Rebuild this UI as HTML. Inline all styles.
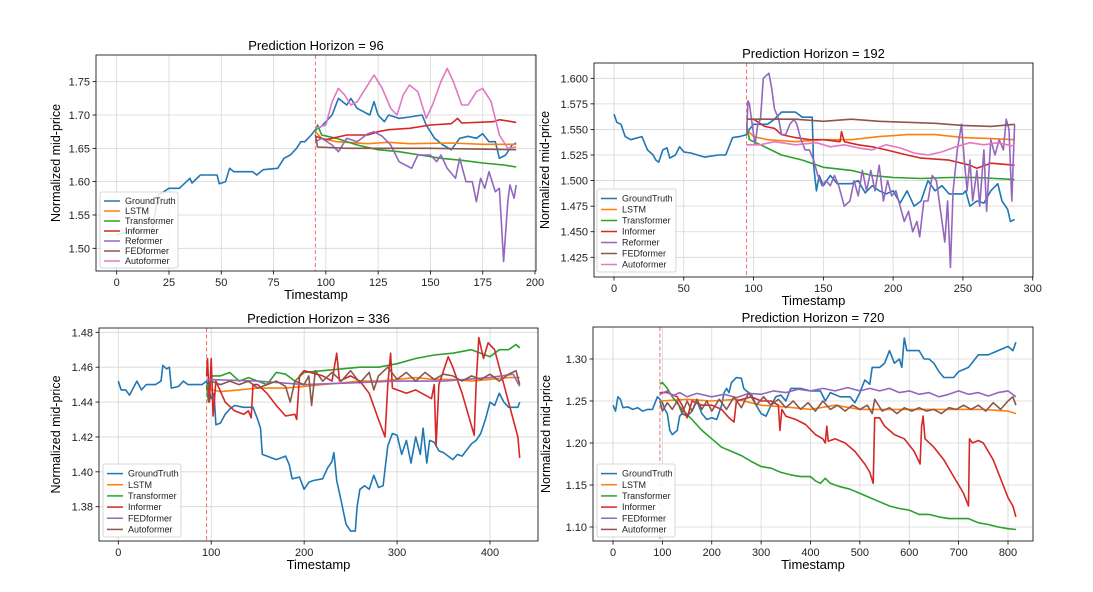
<!DOCTYPE html>
<html><head><meta charset="utf-8"><style>
body{margin:0;background:#fff}
svg{display:block;font-family:"Liberation Sans","DejaVu Sans",sans-serif}
</style></head><body>
<svg id="fig" width="1093" height="592" viewBox="0 0 1093 592" xmlns="http://www.w3.org/2000/svg"></svg>
<script>
// ---------- Data: Horizon 96 ----------
const p1_gt=[[0,1.52],[6,1.525],[13,1.525],[17,1.53],[20,1.58],[25,1.59],[30,1.59],[35,1.605],[36,1.598],[40,1.61],[48,1.61],[49,1.597],[52,1.60],[54,1.62],[56,1.615],[65,1.615],[67,1.61],[70,1.618],[77,1.62],[80,1.635],[83,1.64],[86,1.65],[88,1.66],[90,1.66],[93,1.67],[95,1.678],[98,1.683],[100,1.69],[103,1.70],[106,1.725],[108,1.72],[110,1.715],[112,1.725],[115,1.71],[118,1.705],[121,1.70],[123,1.72],[125,1.70],[128,1.69],[130,1.70],[135,1.695],[140,1.697],[146,1.70],[148,1.685],[152,1.665],[156,1.655],[160,1.648],[164,1.665],[168,1.668],[172,1.665],[175,1.672],[178,1.66],[181,1.66],[183,1.635],[186,1.64],[189,1.655],[191,1.658]];
const p1_lstm=[[95,1.675],[98,1.665],[105,1.66],[120,1.657],[130,1.659],[140,1.657],[160,1.658],[175,1.656],[191,1.656]];
const p1_trans=[[95,1.675],[96,1.685],[98,1.67],[105,1.665],[115,1.655],[125,1.648],[135,1.645],[145,1.64],[155,1.635],[165,1.632],[175,1.628],[185,1.625],[191,1.622]];
const p1_inf=[[95,1.668],[100,1.663],[110,1.67],[120,1.67],[125,1.675],[130,1.678],[140,1.68],[150,1.685],[160,1.687],[163,1.695],[165,1.688],[180,1.69],[183,1.693],[191,1.689]];
const p1_ref=[[95,1.66],[98,1.665],[103,1.655],[106,1.645],[110,1.665],[115,1.66],[120,1.672],[123,1.675],[127,1.668],[131,1.655],[135,1.63],[138,1.625],[141,1.62],[144,1.64],[150,1.64],[153,1.63],[155,1.64],[158,1.62],[162,1.605],[164,1.635],[167,1.60],[170,1.60],[172,1.57],[174,1.605],[176,1.59],[178,1.615],[181,1.585],[183,1.59],[185,1.48],[187,1.57],[188,1.595],[190,1.575],[191,1.595]];
const p1_fed=[[95,1.67],[96,1.652],[110,1.65],[150,1.65],[191,1.648]];
const p1_auto=[[95,1.68],[100,1.685],[103,1.72],[106,1.74],[109,1.73],[112,1.715],[115,1.72],[119,1.74],[123,1.76],[127,1.74],[131,1.71],[134,1.70],[137,1.73],[140,1.745],[144,1.735],[148,1.695],[151,1.715],[155,1.75],[158,1.77],[161,1.75],[165,1.715],[168,1.715],[172,1.735],[175,1.74],[179,1.72],[183,1.67],[187,1.65],[191,1.652]];
const p1_yticks=[1.50,1.55,1.60,1.65,1.70,1.75];
const p1_xticks=[0,25,50,75,100,125,150,175,200];
// ---------- Data: Horizon 192 ----------
const p2_gt=[[0,1.565],[2,1.557],[5,1.555],[8,1.543],[12,1.54],[20,1.543],[24,1.53],[28,1.525],[30,1.52],[32,1.518],[35,1.53],[38,1.532],[40,1.522],[44,1.525],[47,1.533],[50,1.528],[55,1.527],[65,1.523],[75,1.525],[80,1.525],[85,1.542],[90,1.543],[95,1.545],[97,1.55],[100,1.555],[110,1.555],[115,1.56],[120,1.567],[130,1.567],[135,1.562],[142,1.562],[143,1.515],[145,1.49],[147,1.505],[150,1.495],[155,1.505],[160,1.497],[170,1.497],[175,1.50],[180,1.488],[185,1.495],[190,1.49],[195,1.487],[200,1.49],[205,1.478],[210,1.49],[215,1.475],[220,1.48],[225,1.50],[230,1.49],[235,1.495],[240,1.487],[250,1.487],[252,1.49],[255,1.475],[260,1.48],[265,1.478],[270,1.49],[275,1.497],[278,1.48],[282,1.472],[284,1.46],[287,1.462]];
const p2_lstm=[[95,1.55],[100,1.543],[110,1.54],[130,1.538],[150,1.54],[170,1.54],[190,1.543],[210,1.545],[230,1.545],[250,1.542],[270,1.541],[287,1.54]];
const p2_trans=[[95,1.555],[97,1.54],[105,1.535],[120,1.525],[135,1.52],[150,1.513],[170,1.51],[185,1.505],[200,1.503],[220,1.502],[240,1.503],[260,1.503],[287,1.501]];
const p2_inf=[[95,1.56],[100,1.56],[108,1.553],[115,1.551],[120,1.545],[130,1.542],[140,1.54],[150,1.54],[162,1.538],[163,1.548],[165,1.538],[175,1.535],[185,1.533],[195,1.53],[210,1.525],[220,1.522],[240,1.52],[255,1.515],[260,1.512],[270,1.517],[287,1.515]];
const p2_ref=[[95,1.545],[96,1.578],[97,1.575],[99,1.555],[101,1.535],[103,1.555],[105,1.56],[107,1.60],[111,1.605],[113,1.59],[115,1.57],[118,1.56],[120,1.545],[123,1.545],[126,1.555],[129,1.56],[131,1.555],[134,1.54],[137,1.53],[140,1.53],[143,1.52],[146,1.505],[149,1.495],[152,1.50],[155,1.495],[158,1.505],[161,1.495],[165,1.475],[169,1.48],[172,1.50],[175,1.485],[178,1.51],[181,1.49],[184,1.51],[187,1.49],[190,1.515],[193,1.48],[196,1.50],[199,1.485],[202,1.49],[205,1.475],[208,1.46],[211,1.47],[214,1.45],[217,1.46],[219,1.445],[222,1.48],[225,1.48],[228,1.505],[231,1.50],[234,1.47],[237,1.44],[239,1.48],[241,1.415],[243,1.49],[246,1.53],[249,1.555],[251,1.52],[253,1.49],[255,1.52],[257,1.48],[260,1.51],[262,1.475],[265,1.53],[267,1.47],[270,1.54],[273,1.525],[276,1.54],[279,1.53],[281,1.56],[283,1.55],[285,1.48],[287,1.555]];
const p2_fed=[[95,1.56],[110,1.56],[130,1.56],[150,1.558],[170,1.56],[190,1.558],[210,1.557],[230,1.556],[250,1.554],[270,1.553],[287,1.555]];
const p2_auto=[[95,1.535],[105,1.535],[115,1.538],[130,1.535],[145,1.537],[155,1.533],[165,1.535],[175,1.532],[185,1.53],[195,1.535],[205,1.532],[215,1.527],[225,1.525],[235,1.528],[245,1.533],[255,1.537],[265,1.535],[275,1.537],[285,1.534],[287,1.535]];
const p2_yticks=[1.425,1.450,1.475,1.500,1.525,1.550,1.575,1.600];
const p2_xticks=[0,50,100,150,200,250,300];
// ---------- Data: Horizon 336 ----------
const p3_gt=[[0,1.452],[3,1.447],[8,1.447],[12,1.444],[16,1.448],[20,1.452],[25,1.447],[30,1.45],[40,1.45],[46,1.452],[48,1.461],[52,1.459],[55,1.46],[57,1.448],[65,1.449],[70,1.452],[75,1.45],[90,1.45],[95,1.452],[100,1.442],[103,1.445],[105,1.427],[110,1.428],[115,1.433],[120,1.436],[125,1.438],[135,1.437],[145,1.437],[150,1.43],[153,1.425],[155,1.41],[160,1.409],[170,1.407],[180,1.409],[184,1.404],[187,1.396],[195,1.397],[200,1.39],[205,1.394],[210,1.395],[220,1.396],[225,1.402],[230,1.406],[232,1.411],[235,1.395],[240,1.383],[245,1.37],[250,1.366],[255,1.366],[257,1.38],[260,1.39],[265,1.392],[270,1.39],[275,1.398],[280,1.391],[285,1.392],[290,1.415],[295,1.422],[300,1.421],[305,1.41],[310,1.418],[315,1.405],[320,1.42],[325,1.41],[328,1.425],[332,1.405],[335,1.418],[340,1.417],[345,1.412],[350,1.411],[360,1.407],[365,1.41],[370,1.409],[380,1.416],[385,1.418],[390,1.422],[395,1.43],[400,1.44],[405,1.438],[410,1.445],[415,1.44],[420,1.437],[430,1.437],[432,1.44]];
const p3_lstm=[[95,1.45],[100,1.447],[110,1.446],[130,1.447],[150,1.448],[180,1.448],[200,1.449],[220,1.45],[240,1.451],[260,1.452],[280,1.452],[300,1.453],[320,1.454],[340,1.453],[360,1.453],[380,1.452],[400,1.453],[420,1.454],[432,1.454]];
const p3_trans=[[95,1.45],[97,1.44],[100,1.455],[110,1.455],[120,1.457],[130,1.452],[140,1.454],[150,1.452],[160,1.45],[170,1.457],[180,1.456],[190,1.452],[200,1.457],[220,1.458],[240,1.459],[260,1.46],[280,1.46],[300,1.462],[320,1.465],[340,1.467],[360,1.468],[380,1.47],[390,1.468],[400,1.466],[410,1.47],[420,1.47],[428,1.473],[432,1.471]];
const p3_inf=[[95,1.455],[96,1.465],[98,1.44],[100,1.465],[102,1.432],[105,1.452],[115,1.44],[125,1.435],[135,1.433],[140,1.435],[143,1.431],[145,1.45],[150,1.45],[160,1.445],[170,1.438],[180,1.432],[190,1.433],[192,1.43],[195,1.455],[200,1.458],[220,1.455],[230,1.452],[235,1.468],[238,1.452],[250,1.455],[260,1.452],[270,1.445],[280,1.43],[287,1.42],[290,1.45],[293,1.468],[295,1.448],[310,1.445],[320,1.447],[337,1.442],[340,1.45],[342,1.415],[345,1.45],[355,1.466],[360,1.46],[370,1.445],[383,1.421],[385,1.45],[388,1.477],[393,1.465],[398,1.474],[405,1.47],[415,1.45],[425,1.43],[430,1.42],[432,1.408]];
const p3_fed=[[95,1.453],[150,1.452],[200,1.45],[250,1.451],[300,1.452],[350,1.452],[400,1.454],[425,1.456],[432,1.449]];
const p3_auto=[[95,1.447],[100,1.452],[110,1.45],[120,1.452],[130,1.45],[140,1.452],[150,1.448],[160,1.45],[170,1.452],[180,1.449],[185,1.44],[190,1.452],[200,1.45],[205,1.455],[208,1.438],[212,1.458],[220,1.452],[230,1.457],[240,1.452],[250,1.458],[260,1.451],[270,1.457],[275,1.447],[280,1.455],[290,1.46],[300,1.453],[310,1.457],[320,1.452],[330,1.457],[340,1.453],[350,1.456],[360,1.455],[370,1.452],[380,1.455],[390,1.453],[400,1.456],[410,1.452],[420,1.456],[428,1.458],[432,1.45]];
const p3_yticks=[1.38,1.40,1.42,1.44,1.46,1.48];
const p3_xticks=[0,100,200,300,400];
// ---------- Data: Horizon 720 ----------
const p4_gt=[[0,1.245],[5,1.238],[10,1.255],[15,1.252],[20,1.242],[30,1.243],[40,1.24],[50,1.242],[60,1.238],[70,1.24],[80,1.24],[90,1.255],[95,1.252],[100,1.248],[105,1.24],[110,1.235],[115,1.215],[120,1.21],[130,1.215],[135,1.232],[140,1.235],[150,1.232],[160,1.238],[170,1.25],[180,1.235],[190,1.228],[200,1.23],[210,1.228],[220,1.245],[225,1.26],[230,1.265],[235,1.26],[240,1.272],[245,1.275],[250,1.278],[260,1.277],[265,1.265],[270,1.262],[280,1.258],[290,1.245],[300,1.235],[310,1.232],[320,1.245],[330,1.255],[340,1.257],[350,1.25],[360,1.265],[380,1.265],[400,1.262],[420,1.262],[430,1.25],[440,1.26],[460,1.255],[480,1.255],[490,1.248],[500,1.26],[510,1.275],[520,1.27],[525,1.29],[540,1.29],[550,1.295],[560,1.31],[570,1.295],[580,1.30],[585,1.29],[590,1.325],[595,1.31],[610,1.31],[620,1.31],[630,1.30],[640,1.30],[650,1.295],[660,1.285],[670,1.278],[690,1.278],[700,1.285],[720,1.29],[740,1.305],[760,1.305],[780,1.31],[800,1.315],[810,1.31],[816,1.32]];
const p4_lstm=[[95,1.25],[150,1.252],[200,1.25],[250,1.252],[300,1.245],[350,1.243],[400,1.24],[450,1.245],[500,1.24],[550,1.24],[600,1.24],[650,1.24],[700,1.24],[750,1.24],[800,1.238],[816,1.235]];
const p4_trans=[[95,1.27],[100,1.272],[110,1.265],[120,1.255],[140,1.24],[160,1.228],[180,1.215],[200,1.205],[220,1.195],[240,1.19],[260,1.185],[280,1.178],[300,1.172],[320,1.17],[340,1.165],[360,1.162],[380,1.16],[400,1.16],[410,1.155],[420,1.152],[430,1.158],[440,1.152],[460,1.148],[480,1.145],[500,1.14],[520,1.135],[540,1.13],[560,1.125],[580,1.122],[600,1.12],[620,1.115],[640,1.115],[660,1.112],[680,1.11],[700,1.11],[720,1.11],[740,1.105],[760,1.103],[780,1.10],[800,1.098],[816,1.097]];
const p4_inf=[[95,1.26],[110,1.26],[130,1.255],[140,1.245],[150,1.23],[160,1.25],[180,1.245],[200,1.245],[220,1.24],[235,1.23],[245,1.225],[250,1.25],[280,1.255],[300,1.25],[320,1.25],[335,1.245],[338,1.215],[342,1.24],[350,1.232],[370,1.228],[390,1.222],[410,1.21],[425,1.205],[430,1.20],[433,1.22],[436,1.202],[450,1.205],[470,1.20],[490,1.19],[510,1.175],[520,1.165],[527,1.152],[530,1.23],[540,1.23],[550,1.22],[570,1.21],[590,1.205],[610,1.19],[622,1.175],[625,1.22],[628,1.232],[632,1.205],[650,1.195],[670,1.18],[690,1.16],[710,1.14],[720,1.125],[722,1.205],[728,1.20],[740,1.203],[750,1.20],[770,1.18],[790,1.15],[800,1.135],[810,1.125],[816,1.112]];
const p4_fed=[[95,1.258],[110,1.262],[120,1.256],[135,1.26],[150,1.255],[170,1.259],[200,1.255],[225,1.258],[250,1.254],[275,1.259],[300,1.258],[325,1.262],[350,1.26],[375,1.264],[400,1.262],[425,1.265],[450,1.262],[475,1.266],[500,1.262],[520,1.265],[540,1.262],[560,1.265],[580,1.26],[600,1.262],[620,1.258],[640,1.26],[660,1.255],[680,1.258],[700,1.262],[720,1.258],[740,1.26],[760,1.256],[780,1.26],[800,1.262],[816,1.255]];
const p4_auto=[[95,1.25],[100,1.238],[110,1.248],[120,1.24],[130,1.25],[140,1.235],[150,1.25],[160,1.238],[170,1.252],[180,1.24],[190,1.25],[200,1.238],[215,1.252],[230,1.24],[245,1.255],[260,1.242],[275,1.26],[290,1.245],[305,1.255],[320,1.245],[335,1.252],[350,1.242],[365,1.25],[380,1.24],[395,1.248],[410,1.238],[425,1.25],[440,1.24],[455,1.245],[470,1.238],[485,1.245],[500,1.24],[515,1.245],[525,1.235],[530,1.252],[545,1.238],[560,1.242],[575,1.235],[590,1.242],[605,1.238],[620,1.242],[635,1.238],[650,1.24],[665,1.235],[680,1.242],[695,1.24],[710,1.245],[725,1.24],[740,1.245],[755,1.238],[770,1.248],[785,1.24],[800,1.25],[810,1.255],[816,1.245]];
const p4_yticks=[1.10,1.15,1.20,1.25,1.30];
const p4_xticks=[0,100,200,300,400,500,600,700,800];

const C={blue:'#1f77b4',orange:'#ff7f0e',green:'#2ca02c',red:'#d62728',purple:'#9467bd',brown:'#8c564b',pink:'#e377c2'};
const panels=[
 {id:'p96',title:'Prediction Horizon = 96',box:[96,55,536,271],x0:0,x0px:116.7,x1:200,x1px:535,y0:1.50,y0px:248.3,y1:1.75,y1px:81.7,xt:p1_xticks,yt:p1_yticks,yfmt:2,leg:[100,192,178,268],ylx:60,
  series:[['GroundTruth',p1_gt,C.blue],['LSTM',p1_lstm,C.orange],['Transformer',p1_trans,C.green],['Informer',p1_inf,C.red],['Reformer',p1_ref,C.purple],['FEDformer',p1_fed,C.brown],['Autoformer',p1_auto,C.pink]]},
 {id:'p192',title:'Prediction Horizon = 192',box:[594,63,1033,277],x0:0,x0px:614,x1:300,x1px:1032.7,y0:1.425,y0px:257.3,y1:1.600,y1px:78.3,xt:p2_xticks,yt:p2_yticks,yfmt:3,leg:[597,189,676,272],ylx:549,
  series:[['GroundTruth',p2_gt,C.blue],['LSTM',p2_lstm,C.orange],['Transformer',p2_trans,C.green],['Informer',p2_inf,C.red],['Reformer',p2_ref,C.purple],['FEDformer',p2_fed,C.brown],['Autoformer',p2_auto,C.pink]]},
 {id:'p336',title:'Prediction Horizon = 336',box:[99,328,538,541],x0:0,x0px:118.3,x1:400,x1px:490,y0:1.38,y0px:506.7,y1:1.48,y1px:332.3,xt:p3_xticks,yt:p3_yticks,yfmt:2,leg:[103,464,181,537],ylx:60,
  series:[['GroundTruth',p3_gt,C.blue],['LSTM',p3_lstm,C.orange],['Transformer',p3_trans,C.green],['Informer',p3_inf,C.red],['FEDformer',p3_fed,C.purple],['Autoformer',p3_auto,C.brown]]},
 {id:'p720',title:'Prediction Horizon = 720',box:[593,327,1033,541],x0:0,x0px:613,x1:800,x1px:1008,y0:1.10,y0px:527,y1:1.30,y1px:359,xt:p4_xticks,yt:p4_yticks,yfmt:2,leg:[597,464,675,537],ylx:550,
  series:[['GroundTruth',p4_gt,C.blue],['LSTM',p4_lstm,C.orange],['Transformer',p4_trans,C.green],['Informer',p4_inf,C.red],['FEDformer',p4_fed,C.purple],['Autoformer',p4_auto,C.brown]]}
];
const NS='http://www.w3.org/2000/svg';
const svg=document.getElementById('fig');
function mk(tag,attrs,parent,text){const e=document.createElementNS(NS,tag);for(const k in attrs)e.setAttribute(k,attrs[k]);if(text!==undefined)e.textContent=text;parent.appendChild(e);return e;}
panels.forEach(p=>{
  const g=mk('g',{},svg);
  
  
  const sx=v=>p.x0px+(v-p.x0)*(p.x1px-p.x0px)/(p.x1-p.x0);
  const sy=v=>p.y0px+(v-p.y0)*(p.y1px-p.y0px)/(p.y1-p.y0);
  const [L,T,R,B]=p.box;
  const t=mk('text',{x:(L+R)/2,y:T-5,'text-anchor':'middle','font-size':13,fill:'#000'},g,p.title);
  
  
  p.xt.forEach(v=>{const x=sx(v);
    const gl=mk('line',{x1:x,x2:x,y1:T,y2:B,stroke:'#d6d6d6','stroke-width':0.8},g);
    
    
    mk('line',{x1:x,x2:x,y1:B,y2:B+3.5,stroke:'#000','stroke-width':0.8},g);
    const tl=mk('text',{x:x,y:B+15,'text-anchor':'middle','font-size':11,fill:'#222'},g,String(v));
    
    
  });
  p.yt.forEach(v=>{const y=sy(v);
    const gl=mk('line',{x1:L,x2:R,y1:y,y2:y,stroke:'#d6d6d6','stroke-width':0.8},g);
    
    
    mk('line',{x1:L-3.5,x2:L,y1:y,y2:y,stroke:'#000','stroke-width':0.8},g);
    const tl=mk('text',{x:L-6,y:y+4,'text-anchor':'end','font-size':11,fill:'#222'},g,v.toFixed(p.yfmt));
    
    
  });
  const vl=mk('line',{x1:sx(95),x2:sx(95),y1:T,y2:B,stroke:'#f47070','stroke-width':1,'stroke-dasharray':'4,2.5'},g);
  
  
  p.series.forEach(s=>{
    const d=s[1].map((pt,i)=>(i?'L':'M')+sx(pt[0]).toFixed(1)+','+sy(pt[1]).toFixed(1)).join('');
    const pa=mk('path',{d:d,fill:'none',stroke:s[2],'stroke-width':1.6,'stroke-linejoin':'round'},g);
    
    
  });
  const fr=mk('rect',{x:L,y:T,width:R-L,height:B-T,fill:'none',stroke:'#000','stroke-width':0.8},g);
  
  
  const [lx0,ly0,lx1,ly1]=p.leg;
  const lg=mk('g',{},g);
  
  
  mk('rect',{x:lx0,y:ly0,width:lx1-lx0,height:ly1-ly0,rx:2,fill:'#fff','fill-opacity':0.85,stroke:'#ccc','stroke-width':0.8},lg);
  const n=p.series.length, step=(ly1-ly0-6)/n;
  p.series.forEach((s,i)=>{const y=ly0+4+step*(i+0.5);
    const le=mk('g',{},lg);
    
    
    mk('line',{x1:lx0+4,x2:lx0+20,y1:y,y2:y,stroke:s[2],'stroke-width':1.5},le);
    mk('text',{x:lx0+25,y:y+3,'font-size':9,fill:'#222'},le,s[0]);
  });
  const xl=mk('text',{x:(L+R)/2,y:B+28,'text-anchor':'middle','font-size':13,fill:'#000'},g,'Timestamp');
  
  
  const cy=(T+B)/2;
  const yl=mk('text',{x:p.ylx,y:cy,'text-anchor':'middle','font-size':12.5,fill:'#000',transform:`rotate(-90 ${p.ylx} ${cy})`},g,'Normalized mid-price');
  
  
});
</script>
</body></html>
